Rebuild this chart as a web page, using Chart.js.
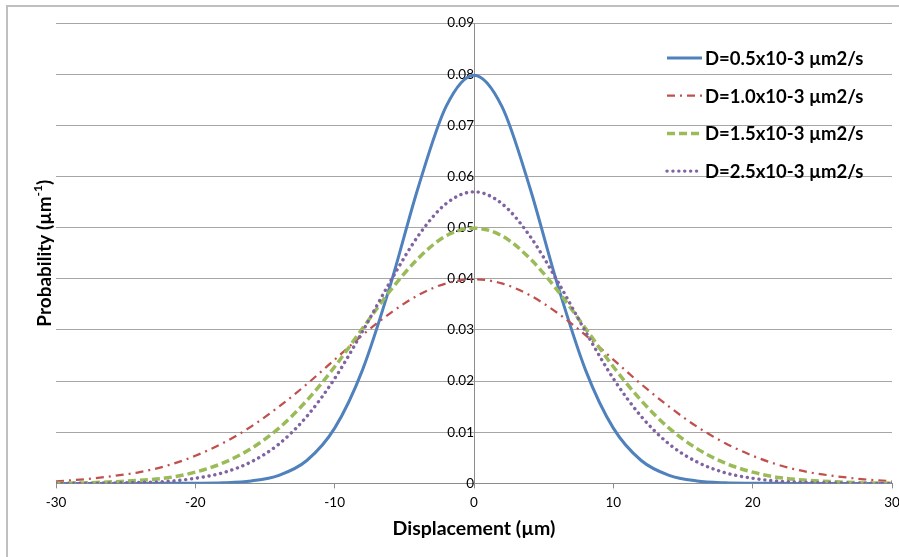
<!DOCTYPE html>
<html>
<head>
<meta charset="utf-8">
<script src="https://cdn.jsdelivr.net/npm/chart.js@4/dist/chart.umd.min.js"></script>
<style>
  html, body { margin: 0; padding: 0; background: #fff; }
  #wrap { position: relative; width: 899px; height: 557px; overflow: hidden; }
  #frame { position: absolute; left: 6px; top: 5px; width: 900px; height: 560px;
           border-top: 2px solid #bfbfbf; border-left: 2px solid #bfbfbf; }
  canvas { position: absolute; left: 0; top: 0; }
</style>
</head>
<body>
<div id="wrap">
  <div id="frame"></div>
  <canvas id="chart" width="899" height="557"></canvas>
</div>
<script>
const displacement = [-30, -28, -26, -24, -22, -20, -18, -16, -14, -12, -10, -8, -6, -4, -2, 0,
                      2, 4, 6, 8, 10, 12, 14, 16, 18, 20, 22, 24, 26, 28, 30];

const d05 = [0, 0, 0, 0, 0.00001, 0.00003, 0.00012, 0.00048, 0.00158, 0.00448, 0.0108, 0.0222, 0.0388, 0.0579, 0.0737, 0.0798,
             0.0737, 0.0579, 0.0388, 0.0222, 0.0108, 0.00448, 0.00158, 0.00048, 0.00012, 0.00003, 0.00001, 0, 0, 0, 0];
const d10 = [0.0004, 0.0008, 0.0014, 0.0022, 0.0035, 0.0054, 0.0079, 0.0111, 0.0150, 0.0194, 0.0242, 0.0290, 0.0333, 0.0368, 0.0391, 0.0399,
             0.0391, 0.0368, 0.0333, 0.0290, 0.0242, 0.0194, 0.0150, 0.0111, 0.0079, 0.0054, 0.0035, 0.0022, 0.0014, 0.0008, 0.0004];
const d15 = [0.00004, 0.0001, 0.0003, 0.0006, 0.0011, 0.0022, 0.0040, 0.0068, 0.0108, 0.0162, 0.0228, 0.0303, 0.0377, 0.0440, 0.0484, 0.0499,
             0.0484, 0.0440, 0.0377, 0.0303, 0.0228, 0.0162, 0.0108, 0.0068, 0.0040, 0.0022, 0.0011, 0.0006, 0.0003, 0.0001, 0.00004];
const d25 = [0, 0.00003, 0.0001, 0.0002, 0.0004, 0.0010, 0.0021, 0.0042, 0.0077, 0.0131, 0.0205, 0.0297, 0.0395, 0.0484, 0.0547, 0.0570,
             0.0547, 0.0484, 0.0395, 0.0297, 0.0205, 0.0131, 0.0077, 0.0042, 0.0021, 0.0010, 0.0004, 0.0002, 0.0001, 0.00003, 0];

const seriesNames = ['D=0.5x10-3 µm2/s', 'D=1.0x10-3 µm2/s', 'D=1.5x10-3 µm2/s', 'D=2.5x10-3 µm2/s'];
const xTicks = [-30, -20, -10, 0, 10, 20, 30];
const yTicks = [0, 0.01, 0.02, 0.03, 0.04, 0.05, 0.06, 0.07, 0.08, 0.09];

const FONT = "Lato, 'Open Sans', sans-serif";
const pts = arr => displacement.map((x, i) => ({ x, y: arr[i] }));

// legend drawn inside the plot area, top right, no background
const legendPlugin = {
  id: 'insideLegend',
  afterDraw(chart) {
    const ctx = chart.ctx;
    ctx.save();
    chart.data.datasets.forEach((ds, i) => {
      const y = 58 + i * 37.7;
      ctx.beginPath();
      ctx.strokeStyle = ds.borderColor;
      ctx.lineWidth = ds.borderWidth;
      ctx.lineCap = ds.borderCapStyle || 'butt';
      ctx.setLineDash(ds.borderDash || []);
      ctx.moveTo(667, y);
      ctx.lineTo(702, y);
      ctx.stroke();
      ctx.setLineDash([]);
      ctx.fillStyle = '#000';
      ctx.font = 'bold 18.5px ' + FONT;
      ctx.textBaseline = 'middle';
      ctx.fillText(ds.label, 705, y + 1);
    });
    ctx.restore();
  }
};

// y axis title on the left edge, with superscript -1
const yTitlePlugin = {
  id: 'yTitle',
  afterDraw(chart) {
    const ctx = chart.ctx;
    const a = chart.chartArea;
    ctx.save();
    ctx.translate(45, (a.top + a.bottom) / 2);
    ctx.rotate(-Math.PI / 2);
    ctx.fillStyle = '#000';
    ctx.textBaseline = 'middle';
    const main = 'Probability (µm';
    ctx.font = 'bold 19px ' + FONT;
    const w1 = ctx.measureText(main).width;
    ctx.font = 'bold 12px ' + FONT;
    const w2 = ctx.measureText('-1').width;
    ctx.font = 'bold 19px ' + FONT;
    const w3 = ctx.measureText(')').width;
    let x = -(w1 + w2 + w3) / 2;
    ctx.fillText(main, x, 0);
    x += w1;
    ctx.font = 'bold 12px ' + FONT;
    ctx.fillText('-1', x, -7);
    x += w2;
    ctx.font = 'bold 19px ' + FONT;
    ctx.fillText(')', x, 0);
    ctx.restore();
  }
};

new Chart(document.getElementById('chart'), {
  type: 'line',
  data: {
    datasets: [
      { label: seriesNames[0], data: pts(d05), borderColor: '#4f81bd', borderWidth: 3, order: 4 },
      { label: seriesNames[1], data: pts(d10), borderColor: '#c0504d', borderWidth: 2.25, borderDash: [8, 5, 2, 5], order: 3 },
      { label: seriesNames[2], data: pts(d15), borderColor: '#9bbb59', borderWidth: 3.5, borderDash: [8, 4], order: 2 },
      { label: seriesNames[3], data: pts(d25), borderColor: '#8064a2', borderWidth: 3.4, borderDash: [0.1, 5.8], borderCapStyle: 'round', order: 1 }
    ]
  },
  options: {
    responsive: false,
    animation: false,
    devicePixelRatio: 1,
    layout: { padding: { left: 56, right: 7, top: 23, bottom: 4 } },
    elements: {
      point: { radius: 0, hoverRadius: 0 },
      line: { cubicInterpolationMode: 'monotone', fill: false }
    },
    plugins: {
      legend: { display: false },
      tooltip: { enabled: false }
    },
    scales: {
      x: {
        type: 'linear',
        min: -30,
        max: 30,
        afterBuildTicks: axis => { axis.ticks = xTicks.map(v => ({ value: v })); },
        afterFit: axis => { axis.paddingLeft = 0; axis.paddingRight = 0; },
        ticks: { color: '#000', font: { family: FONT, size: 13.5 }, padding: 6, maxRotation: 0,
                 callback: v => String(v) },
        grid: { display: true, drawOnChartArea: false, drawTicks: true, tickLength: 5, color: '#8c8c8c' },
        border: { display: true, color: '#8c8c8c', width: 1 },
        title: { display: true, text: 'Displacement (µm)', color: '#000',
                 font: { family: FONT, size: 19.5, weight: 'bold' }, padding: { top: 0, bottom: 13 } }
      },
      y: {
        type: 'linear',
        position: { x: 0 },
        min: 0,
        max: 0.09,
        afterBuildTicks: axis => { axis.ticks = yTicks.map(v => ({ value: v })); },
        ticks: { color: '#000', font: { family: FONT, size: 13.5 }, padding: 12,
                 callback: v => v === 0 ? '0' : v.toFixed(2) },
        grid: { color: '#a6a6a6', lineWidth: 1, drawTicks: false },
        border: { display: true, color: '#8c8c8c', width: 1 },
        title: { display: false }
      }
    }
  },
  plugins: [legendPlugin, yTitlePlugin]
});
</script>
</body>
</html>
